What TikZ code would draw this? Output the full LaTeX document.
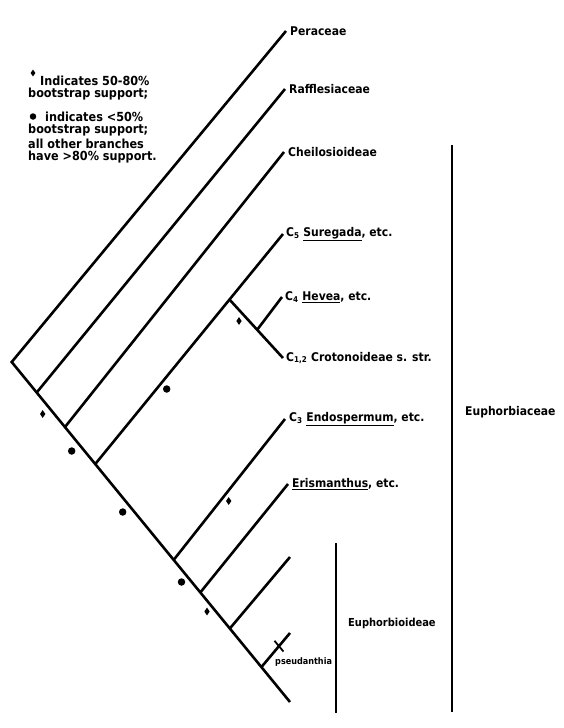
\documentclass[tikz,border=0pt]{standalone}
\usepackage{fontspec}
\setmainfont{DejaVu Sans}[FakeStretch=0.9]
\usetikzlibrary{shapes.geometric,positioning,calc}

\tikzset{
  branch/.style={line width=2.6pt},
  bracketline/.style={line width=2.8pt},
  taxon/.style={font=\bfseries\fontsize{12}{14}\selectfont, inner sep=0pt, anchor=west},
  keytext/.style={anchor=west, font=\bfseries\fontsize{12.5}{14}\selectfont, inner sep=0pt},
  dmark/.style={diamond, fill=black, inner sep=0pt, minimum width=5.5pt, minimum height=8pt},
  cmark/.style={circle, fill=black, inner sep=0pt, minimum size=7.5pt},
}

\begin{document}
\begin{tikzpicture}[x=1pt, y=-1pt]
  \useasboundingbox (0,0) rectangle (563,728);

  % Legend
  \node[dmark, minimum width=5pt, minimum height=7pt] (keyd) at (33,73) {};
  \node[keytext] (key1) at (40,81) {Indicates 50-80\%};
  \node[keytext] (key2) at (28,94.5) {bootstrap support;};
  \node[cmark, minimum size=6.5pt] (keyc) at (33,116.5) {};
  \node[keytext] (key3) at (45,117) {indicates <50\%};
  \node[keytext] (key4) at (28,130.5) {bootstrap support;};
  \node[keytext] (key5) at (28,144) {all other branches};
  \node[keytext] (key6) at (28,157.5) {have >80\% support.};

  % Nodes of the tree (spine from root to lower right)
  \coordinate (root) at (11.7,362);
  \coordinate (n1) at (36.7,392.5);
  \coordinate (n2) at (65,427);
  \coordinate (n3) at (95.7,463.5);
  \coordinate (n4) at (174,559.5);
  \coordinate (n5) at (200.7,592);
  \coordinate (n6) at (230,628.3);
  \coordinate (n7) at (261.7,666.7);
  \coordinate (tEnd) at (290,702);
  \coordinate (c1) at (229,299);
  \coordinate (c2) at (257,330);

  % Tips
  \coordinate (tPer) at (286,31);
  \coordinate (tRaf) at (285,89);
  \coordinate (tChe) at (284,152);
  \coordinate (tSur) at (283,234);
  \coordinate (tHev) at (282,297);
  \coordinate (tCro) at (283,358);
  \coordinate (tEnd3) at (285,419);
  \coordinate (tEri) at (288,484);
  \coordinate (tUnl) at (290,557);
  \coordinate (tPse) at (290,633);

  % Branches
  \draw[branch] (tPer) -- (root) -- (tEnd);
  \draw[branch] (n1) -- (tRaf);
  \draw[branch] (n2) -- (tChe);
  \draw[branch] (n3) -- (tSur);
  \draw[branch] (c1) -- (tCro);
  \draw[branch] (c2) -- (tHev);
  \draw[branch] (n4) -- (tEnd3);
  \draw[branch] (n5) -- (tEri);
  \draw[branch] (n6) -- (tUnl);
  \draw[branch] (n7) -- (tPse);

  % Taxon labels
  \node[taxon, right=4pt of tPer] (peraceae) {Peraceae};
  \node[taxon, right=4pt of tRaf] (raffl) {Rafflesiaceae};
  \node[taxon, right=4pt of tChe] (cheilo) {Cheilosioideae};
  \node[taxon, right=3pt of tSur] (suregada) {C\textsubscript{5} \underline{Suregada}, etc.};
  \node[taxon, right=3pt of tHev] (hevea) {C\textsubscript{4} \underline{Hevea}, etc.};
  \node[taxon, right=3pt of tCro] (croton) {C\textsubscript{1,2} Crotonoideae s. str.};
  \node[taxon, right=4pt of tEnd3] (endosp) {C\textsubscript{3} \underline{Endospermum}, etc.};
  \node[taxon, right=4pt of tEri] (erism) {\underline{Erismanthus}, etc.};

  % Support marks
  \node[dmark] (d1) at (42.7,414) {};
  \node[cmark] (o1) at (71.7,451) {};
  \node[cmark] (o2) at (166.7,389) {};
  \node[cmark] (o3) at (122.7,512) {};
  \node[dmark] (d2) at (228.7,501) {};
  \node[cmark] (o4) at (181.5,582) {};
  \node[dmark] (d3) at (207,611.5) {};
  \node[dmark] (d4) at (239,321) {};

  % Pseudanthia
  \coordinate (xc) at ($(n7)!0.61!(tPse)$);
  \draw[line width=1.8pt] ($(xc)!7pt!80:(tPse)$) -- ($(xc)!7pt!-100:(tPse)$);
  \node[anchor=west, inner sep=0pt, font=\bfseries\fontsize{9}{10}\selectfont] (pseud) at (275,662) {pseudanthia};

  % Brackets
  \coordinate (bEu1) at (336,543);
  \coordinate (bEu2) at (336,713);
  \draw[bracketline] (bEu1) -- (bEu2);
  \node[taxon, font=\bfseries\fontsize{11}{13}\selectfont] (euphoid) at (348,623) {Euphorbioideae};
  \coordinate (bEb1) at (452,145);
  \coordinate (bEb2) at (452,712);
  \draw[bracketline] (bEb1) -- (bEb2);
  \node[taxon, font=\bfseries\fontsize{12}{14}\selectfont] (euphace) at (465,412) {Euphorbiaceae};
\end{tikzpicture}
\end{document}
